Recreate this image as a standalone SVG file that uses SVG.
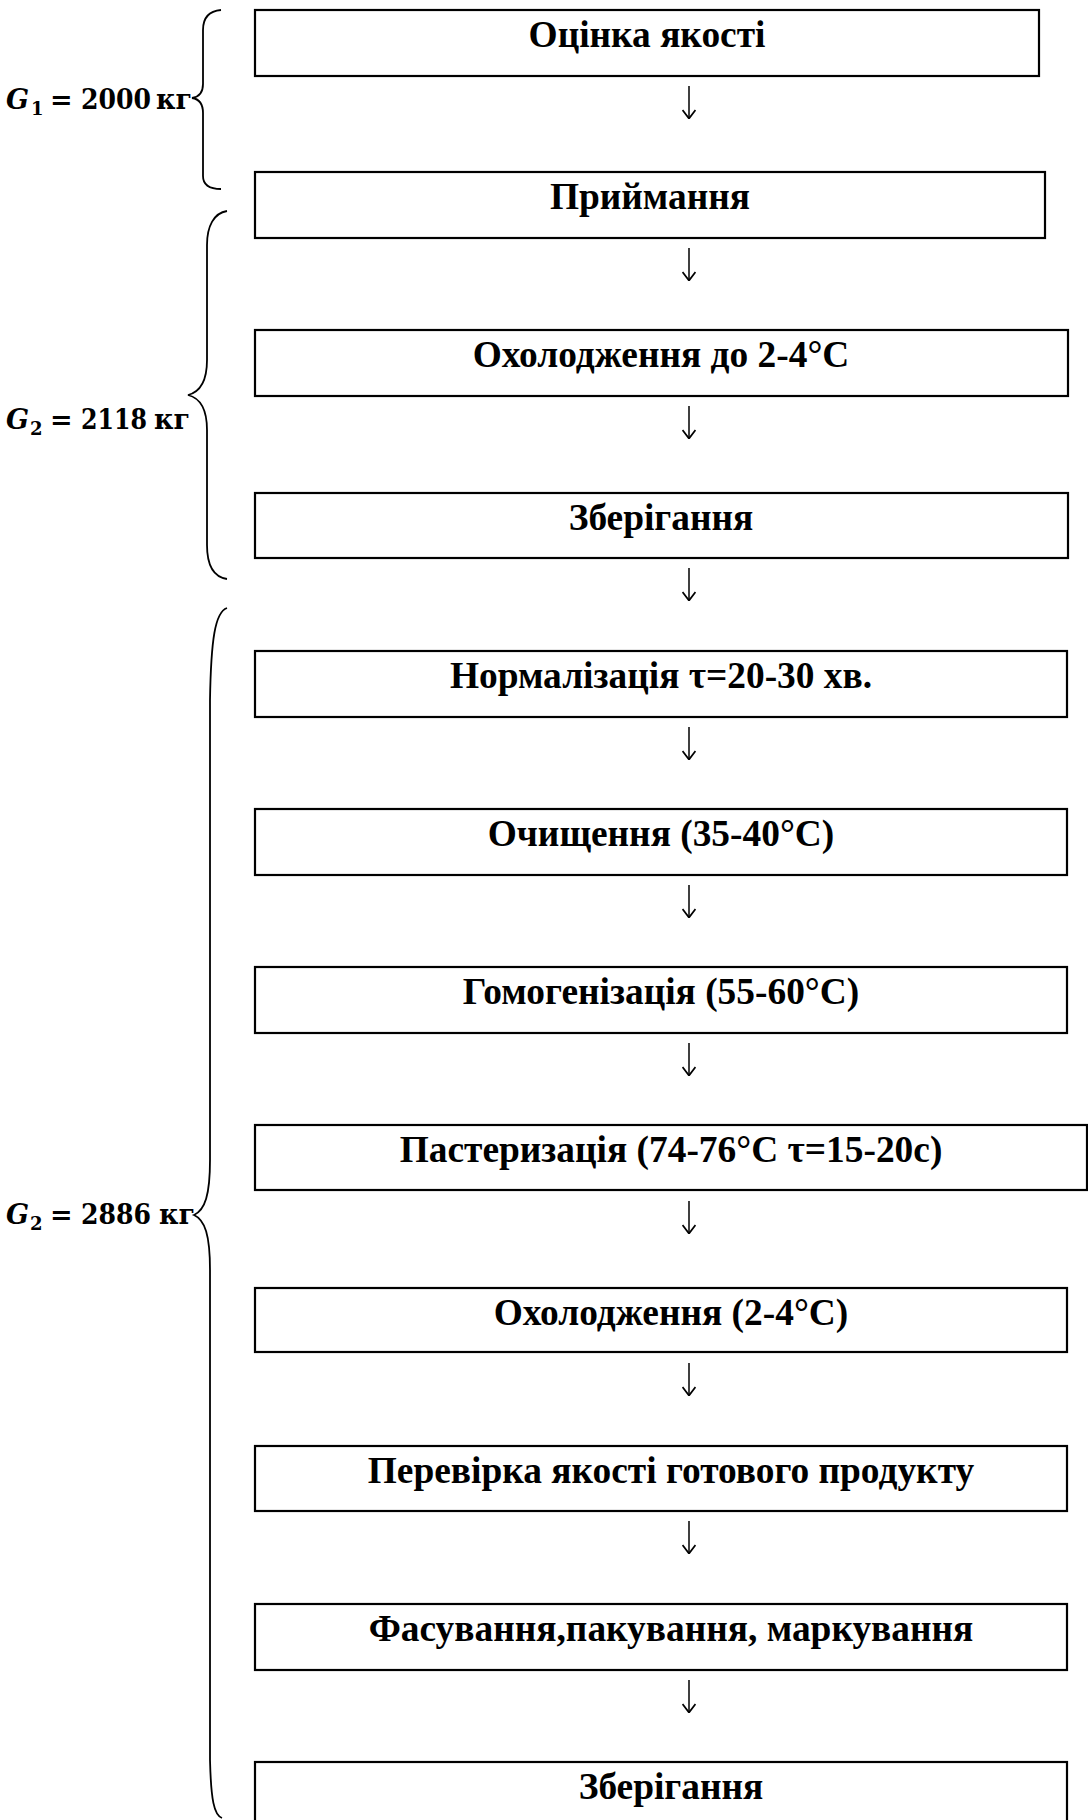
<svg xmlns="http://www.w3.org/2000/svg" width="1088" height="1820" viewBox="0 0 1088 1820">
  <defs>
    <style>
      .box { fill: #ffffff; stroke: #000000; stroke-width: 2.2; }
      .lbl { font-family: "Liberation Serif", "Times New Roman", serif; font-weight: bold; font-size: 37.4px; fill: #000000; text-anchor: middle; }
      .mass { font-family: "DejaVu Serif", serif; font-weight: bold; font-size: 27px; fill: #000000; }
      .sub { font-size: 18px; }
      .brace { fill: none; stroke: #000000; stroke-width: 1.8; }
      .arrow { fill: none; stroke: #000000; stroke-width: 1.5; }
    </style>
    <!-- open arrowhead drawn along +x so orient="auto" turns it with the line -->
    <marker id="head" viewBox="0 0 10 14" refX="9" refY="7" markerWidth="10" markerHeight="14" markerUnits="userSpaceOnUse" orient="auto">
      <path d="M1,0.5 L9.5,7 L1,13.5" fill="none" stroke="#000000" stroke-width="1.8"/>
    </marker>
  </defs>
  <rect width="1088" height="1820" fill="#ffffff"/>

  <!-- process steps -->
  <g id="n1"><rect class="box" x="255" y="10" width="784" height="66"/><text class="lbl" x="647" y="47">Оцінка якості</text></g>
  <g id="n2"><rect class="box" x="255" y="172" width="790" height="66"/><text class="lbl" x="650" y="209">Приймання</text></g>
  <g id="n3"><rect class="box" x="255" y="330" width="813" height="66"/><text class="lbl" x="661" y="367">Охолодження до 2-4°C</text></g>
  <g id="n4"><rect class="box" x="255" y="493" width="813" height="65"/><text class="lbl" x="661" y="530">Зберігання</text></g>
  <g id="n5"><rect class="box" x="255" y="651" width="812" height="66"/><text class="lbl" x="661" y="688">Нормалізація τ=20-30 хв.</text></g>
  <g id="n6"><rect class="box" x="255" y="809" width="812" height="66"/><text class="lbl" x="661" y="846">Очищення (35-40°C)</text></g>
  <g id="n7"><rect class="box" x="255" y="967" width="812" height="66"/><text class="lbl" x="661" y="1004">Гомогенізація (55-60°C)</text></g>
  <g id="n8"><rect class="box" x="255" y="1125" width="832" height="65"/><text class="lbl" x="671" y="1162">Пастеризація (74-76°C τ=15-20с)</text></g>
  <g id="n9"><rect class="box" x="255" y="1288" width="812" height="64"/><text class="lbl" x="671" y="1325">Охолодження (2-4°C)</text></g>
  <g id="n10"><rect class="box" x="255" y="1446" width="812" height="65"/><text class="lbl" x="671" y="1483">Перевірка якості готового продукту</text></g>
  <g id="n11"><rect class="box" x="255" y="1604" width="812" height="66"/><text class="lbl" x="671" y="1641">Фасування,пакування, маркування</text></g>
  <g id="n12"><rect class="box" x="255" y="1762" width="812" height="70"/><text class="lbl" x="671" y="1799">Зберігання</text></g>

  <!-- flow arrows between steps -->
  <g id="connectors">
    <path class="arrow" d="M689,86 V118" marker-end="url(#head)"/>
    <path class="arrow" d="M689,248 V280" marker-end="url(#head)"/>
    <path class="arrow" d="M689,406 V438" marker-end="url(#head)"/>
    <path class="arrow" d="M689,568 V600" marker-end="url(#head)"/>
    <path class="arrow" d="M689,727 V759" marker-end="url(#head)"/>
    <path class="arrow" d="M689,885 V917" marker-end="url(#head)"/>
    <path class="arrow" d="M689,1043 V1075" marker-end="url(#head)"/>
    <path class="arrow" d="M689,1201 V1233" marker-end="url(#head)"/>
    <path class="arrow" d="M689,1363 V1395" marker-end="url(#head)"/>
    <path class="arrow" d="M689,1521 V1553" marker-end="url(#head)"/>
    <path class="arrow" d="M689,1680 V1712" marker-end="url(#head)"/>
  </g>

  <!-- mass balance braces -->
  <g id="brace1">
    <path class="brace" d="M221,10 C209,11 203,17 203,30 V84 C203,93 199,97 192,98 C199,99 203,104 203,113 V176 C203,184 209,189 221,189"/>
    <text class="mass" y="109"><tspan x="6" font-style="italic">G</tspan><tspan class="sub" x="31" y="115">1</tspan><tspan x="50" y="109">=</tspan><tspan x="81" textLength="70" lengthAdjust="spacingAndGlyphs">2000</tspan><tspan x="156">кг</tspan></text>
  </g>
  <g id="brace2">
    <path class="brace" d="M227,211 C214,213 207,226 207,245 V360 C207,380 200,392 188,395 C200,398 207,410 207,430 V545 C207,565 214,577 227,579"/>
    <text class="mass" y="429"><tspan x="6" font-style="italic">G</tspan><tspan class="sub" x="30" y="435">2</tspan><tspan x="50" y="429">=</tspan><tspan x="81" textLength="66" lengthAdjust="spacingAndGlyphs">2118</tspan><tspan x="154">кг</tspan></text>
  </g>
  <g id="brace3">
    <path class="brace" d="M227,608 C215,612 211,640 210,700 V1160 C210,1195 205,1210 194,1215 C205,1220 210,1235 210,1270 V1760 C211,1800 214,1815 222,1818"/>
    <text class="mass" y="1224"><tspan x="6" font-style="italic">G</tspan><tspan class="sub" x="30" y="1230">2</tspan><tspan x="50" y="1224">=</tspan><tspan x="81" textLength="70" lengthAdjust="spacingAndGlyphs">2886</tspan><tspan x="159">кг</tspan></text>
  </g>
</svg>
